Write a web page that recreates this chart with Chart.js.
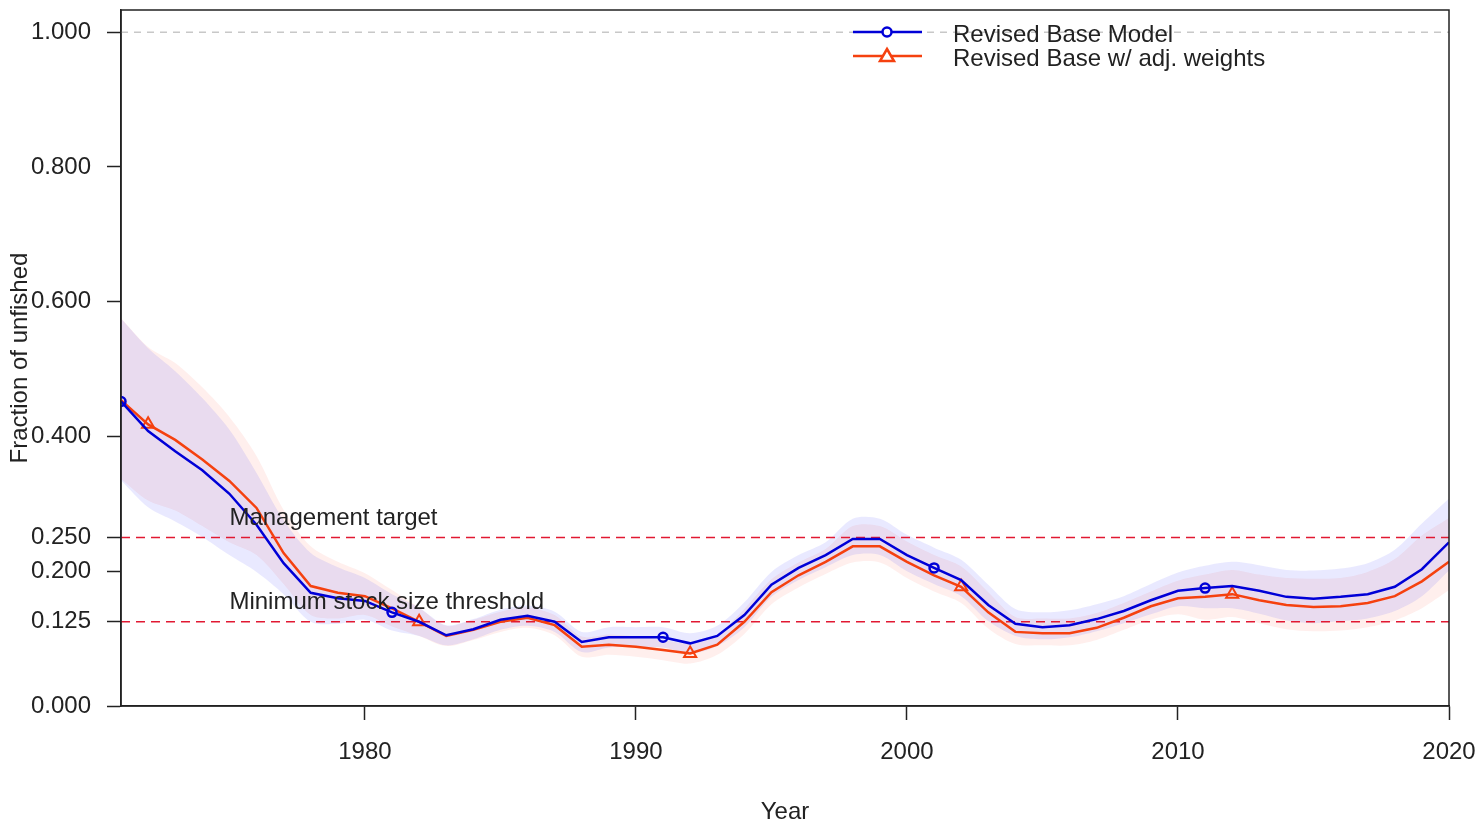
<!DOCTYPE html>
<html>
<head>
<meta charset="utf-8">
<title>Fraction of unfished</title>
<script src="https://cdn.jsdelivr.net/npm/chart.js@4.4.1/dist/chart.umd.min.js"></script>
<style>
  body{margin:0;background:#fff;}
  #wrap{width:1478px;height:821px;}
</style>
</head>
<body>
<div id="wrap"><canvas id="grafico" width="1478" height="821"></canvas></div>
<script>
const years=[
  1971,1972,1973,1974,1975,1976,1977,1978,1979,1980,
  1981,1982,1983,1984,1985,1986,1987,1988,1989,1990,
  1991,1992,1993,1994,1995,1996,1997,1998,1999,2000,
  2001,2002,2003,2004,2005,2006,2007,2008,2009,2010,
  2011,2012,2013,2014,2015,2016,2017,2018,2019,2020];

// Revised Base Model
const baseModel=[
  0.452,0.408,0.378,0.350,0.315,0.269,0.212,0.168,0.160,0.156,
  0.139,0.125,0.105,0.114,0.128,0.134,0.125,0.095,0.102,0.102,
  0.102,0.093,0.104,0.135,0.180,0.205,0.224,0.248,0.248,0.224,
  0.205,0.187,0.150,0.122,0.117,0.120,0.129,0.141,0.157,0.171,
  0.175,0.178,0.171,0.162,0.159,0.162,0.166,0.177,0.203,0.243];
const baseHi=[
  0.575,0.531,0.497,0.457,0.410,0.346,0.276,0.227,0.206,0.190,
  0.166,0.146,0.120,0.129,0.143,0.149,0.140,0.110,0.117,0.117,
  0.117,0.108,0.119,0.154,0.199,0.224,0.243,0.278,0.278,0.254,
  0.235,0.217,0.180,0.144,0.139,0.142,0.151,0.163,0.181,0.198,
  0.208,0.214,0.209,0.202,0.201,0.204,0.212,0.232,0.271,0.308];
const baseLo=[
  0.335,0.295,0.274,0.251,0.224,0.199,0.166,0.125,0.122,0.128,
  0.112,0.104,0.090,0.099,0.113,0.119,0.110,0.080,0.087,0.087,
  0.087,0.078,0.089,0.117,0.162,0.187,0.206,0.224,0.224,0.200,
  0.181,0.163,0.126,0.104,0.099,0.102,0.111,0.123,0.136,0.148,
  0.145,0.145,0.137,0.127,0.123,0.126,0.130,0.141,0.163,0.201];

// Revised Base w/ adj. weights
const adjWeights=[
  0.454,0.418,0.395,0.366,0.334,0.294,0.227,0.178,0.168,0.163,
  0.145,0.125,0.104,0.113,0.125,0.131,0.120,0.088,0.091,0.088,
  0.083,0.078,0.091,0.125,0.169,0.194,0.214,0.237,0.237,0.214,
  0.194,0.177,0.139,0.110,0.108,0.108,0.116,0.131,0.148,0.160,
  0.162,0.166,0.157,0.150,0.147,0.148,0.153,0.163,0.185,0.214];
const adjHi=[
  0.576,0.533,0.509,0.473,0.429,0.371,0.291,0.237,0.214,0.197,
  0.172,0.146,0.119,0.128,0.140,0.146,0.135,0.103,0.106,0.103,
  0.098,0.093,0.106,0.144,0.188,0.213,0.233,0.267,0.267,0.244,
  0.224,0.207,0.169,0.132,0.130,0.130,0.138,0.153,0.170,0.186,
  0.195,0.202,0.195,0.190,0.189,0.190,0.199,0.218,0.253,0.279];
const adjLo=[
  0.337,0.305,0.290,0.267,0.243,0.224,0.181,0.135,0.130,0.135,
  0.118,0.104,0.089,0.098,0.110,0.116,0.105,0.073,0.076,0.073,
  0.068,0.063,0.076,0.107,0.151,0.176,0.196,0.213,0.213,0.190,
  0.170,0.153,0.115,0.092,0.090,0.090,0.098,0.113,0.128,0.136,
  0.128,0.132,0.123,0.114,0.111,0.112,0.117,0.127,0.145,0.172];

const baseMarks=[1971,1981,1991,2001,2011];
const adjMarks=[1972,1982,1992,2002,2012];

const yTicks=[0,0.125,0.2,0.25,0.4,0.6,0.8,1.0];
const xTicks=[1980,1990,2000,2010,2020];

const refLevels=[0.25,0.125];
const refLabels=["Management target","Minimum stock size threshold"];
const refLabelYear=1975;
const unfished=1.0;

const legendLabels=["Revised Base Model","Revised Base w/ adj. weights"];

const XMIN=1971, XMAX=2020;
const BLUE="rgb(0,0,215)";
const RED="rgb(245,65,15)";
const DASHRED="rgb(225,25,50)";
const FONT="'Liberation Sans', Arial, sans-serif";

function pts(vals){
  return vals.map((v,i)=>({x:years[i],y:v}));
}
function hline(v){
  return [{x:XMIN,y:v},{x:XMAX,y:v}];
}
// quita el relleno que Chart.js reserva para las etiquetas
function sinPadding(s){
  s.paddingTop=0;s.paddingBottom=0;s.paddingLeft=0;s.paddingRight=0;
}

const cajaYLeyenda={
  id:"cajaYLeyenda",
  afterDatasetsDraw(chart){
    const {ctx,chartArea:a,scales:{x,y}}=chart;
    ctx.save();
    ctx.font="24px "+FONT;
    ctx.fillStyle="#222";
    ctx.textBaseline="middle";
    ctx.textAlign="left";
    refLabels.forEach((t,i)=>{
      ctx.fillText(t,x.getPixelForValue(refLabelYear),y.getPixelForValue(refLevels[i])-19);
    });

    // caja del grafico
    ctx.strokeStyle="#222";
    ctx.lineWidth=1.5;
    ctx.strokeRect(a.left,a.top,a.right-a.left,a.bottom-a.top);

    // leyenda
    const lx0=853, lx1=922, mx=887, tx=953;
    const rows=[32,56];
    const cols=[BLUE,RED];
    rows.forEach((ry,i)=>{
      ctx.strokeStyle=cols[i];
      ctx.lineWidth=2.5;
      ctx.beginPath();ctx.moveTo(lx0,ry);ctx.lineTo(lx1,ry);ctx.stroke();
      ctx.fillStyle="#fff";
      ctx.beginPath();
      if(i===0){
        ctx.arc(mx,ry,4.5,0,Math.PI*2);
      }else{
        ctx.moveTo(mx,ry-7);ctx.lineTo(mx+7,ry+5);ctx.lineTo(mx-7,ry+5);ctx.closePath();
      }
      ctx.fill();ctx.stroke();
      ctx.fillStyle="#222";
      ctx.fillText(legendLabels[i],tx,ry+3);
    });
    ctx.restore();
  }
};

new Chart("grafico",{
  type:"line",
  data:{
    datasets:[
      {
        label:legendLabels[0],
        data:pts(baseModel),
        borderColor:BLUE,
        borderWidth:2.5,
        pointStyle:"circle",
        pointRadius:years.map(v=>baseMarks.includes(v)?4.5:0),
        pointBorderWidth:2.5,
        pointBorderColor:BLUE,
        pointBackgroundColor:"rgba(255,255,255,0)",
        fill:false,
        tension:0,
        order:0
      },
      {
        label:legendLabels[1],
        data:pts(adjWeights),
        borderColor:RED,
        borderWidth:2.5,
        pointStyle:"triangle",
        pointRadius:years.map(v=>adjMarks.includes(v)?7:0),
        pointBorderWidth:2,
        pointBorderColor:RED,
        pointBackgroundColor:"rgba(255,255,255,0)",
        fill:false,
        tension:0,
        order:0
      },
      {
        data:hline(refLevels[0]),
        borderColor:DASHRED,
        borderWidth:1.5,
        borderDash:[9,6],
        pointRadius:0,
        fill:false,
        order:1
      },
      {
        data:hline(refLevels[1]),
        borderColor:DASHRED,
        borderWidth:1.5,
        borderDash:[9,6],
        pointRadius:0,
        fill:false,
        order:1
      },
      {
        data:hline(unfished),
        borderColor:"rgb(200,200,200)",
        borderWidth:1.5,
        borderDash:[7,6],
        pointRadius:0,
        fill:false,
        order:1
      },
      {
        data:pts(baseHi),
        borderWidth:0,
        pointRadius:0,
        backgroundColor:"rgba(40,40,255,0.10)",
        fill:"+1",
        tension:0.3,
        order:2
      },
      {
        data:pts(baseLo),
        borderWidth:0,
        pointRadius:0,
        fill:false,
        tension:0.3,
        order:2
      },
      {
        data:pts(adjHi),
        borderWidth:0,
        pointRadius:0,
        backgroundColor:"rgba(255,50,30,0.08)",
        fill:"+1",
        tension:0.3,
        order:2
      },
      {
        data:pts(adjLo),
        borderWidth:0,
        pointRadius:0,
        fill:false,
        tension:0.3,
        order:2
      }
    ]
  },
  options:{
    responsive:false,
    animation:false,
    layout:{padding:{left:0,right:29,top:10,bottom:0}},
    plugins:{
      legend:{display:false},
      tooltip:{enabled:false}
    },
    scales:{
      x:{
        type:"linear",
        min:XMIN,
        max:XMAX,
        afterBuildTicks:(s)=>{s.ticks=xTicks.map(v=>({value:v}));},
        afterFit:(s)=>{s.height=115;sinPadding(s);},
        ticks:{
          autoSkip:false,
          maxRotation:0,
          padding:18,
          color:"#222",
          font:{family:FONT,size:24},
          callback:(v)=>String(v)
        },
        grid:{drawOnChartArea:false,drawTicks:true,tickLength:14,tickColor:"#222",tickWidth:1.5},
        border:{display:true,color:"#222",width:1.5},
        title:{
          display:true,
          text:"Year",
          color:"#222",
          font:{family:FONT,size:24,lineHeight:0.75},
          padding:{top:0,bottom:0}
        }
      },
      y:{
        min:0,
        max:1.033,
        afterBuildTicks:(s)=>{s.ticks=yTicks.map(v=>({value:v}));},
        afterFit:(s)=>{s.width=121;sinPadding(s);},
        ticks:{
          autoSkip:false,
          padding:16,
          color:"#222",
          font:{family:FONT,size:24},
          callback:(v)=>v.toFixed(3)
        },
        grid:{drawOnChartArea:false,drawTicks:true,tickLength:14,tickColor:"#222",tickWidth:1.5},
        border:{display:true,color:"#222",width:1.5},
        title:{
          display:true,
          text:"Fraction of unfished",
          color:"#222",
          font:{family:FONT,size:24},
          padding:{top:6,bottom:0}
        }
      }
    }
  },
  plugins:[cajaYLeyenda]
});
</script>
</body>
</html>
